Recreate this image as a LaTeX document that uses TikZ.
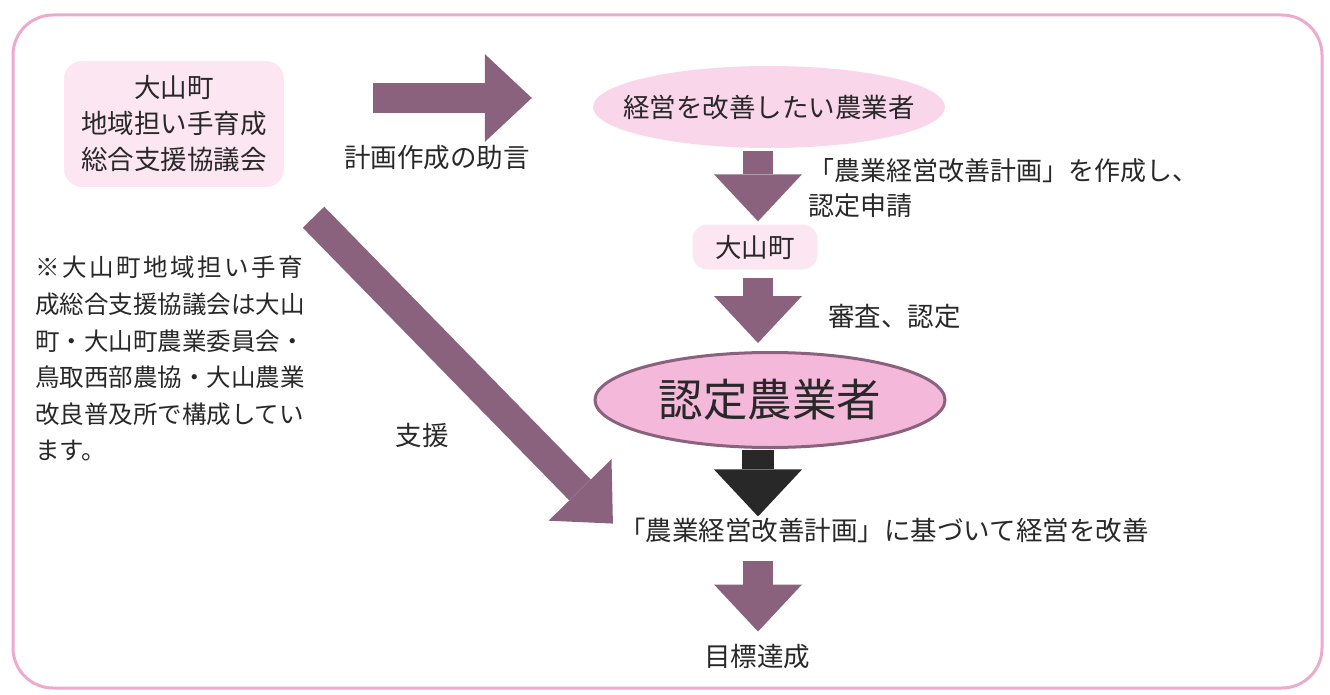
\documentclass[tikz,border=0pt]{standalone}
\usepackage{fontspec}
\newfontfamily\jpfont{Noto Sans CJK JP}
\usetikzlibrary{arrows.meta,shapes.geometric}
\definecolor{mauve}{RGB}{138,98,126}
\definecolor{framepink}{RGB}{238,170,205}
\definecolor{palepink}{RGB}{252,230,242}
\definecolor{midpink}{RGB}{250,214,235}
\definecolor{deeppink}{RGB}{244,184,218}
\definecolor{ink}{RGB}{40,40,40}
\tikzset{
  jp/.style={font=\jpfont\fontsize{26.5}{36}\selectfont, text=ink, inner sep=0pt},
  bigarrow/.style={draw=mauve, line width=30pt,
    -{Triangle[length=47pt,width=88pt,line width=0pt]}},
  blackarrow/.style={bigarrow, draw=ink, line width=32pt},
  pinkbox/.style={jp, fill=palepink, rounded corners=18pt, align=center},
}
\begin{document}
\begin{tikzpicture}[x=1pt,y=-1pt]
  \useasboundingbox (0,0) rectangle (1330,695);
  % outer frame
  \draw[framepink, line width=3pt, rounded corners=40pt] (13,15) rectangle (1322,688);

  % nodes
  \node[pinkbox, minimum width=220pt, minimum height=126pt] (kyogikai) at (174,124)
    {大山町\\地域担い手育成\\総合支援協議会};
  \node[jp, ellipse, fill=midpink, inner xsep=-24pt, minimum width=352pt, minimum height=82pt] (keiei) at (769,107)
    {経営を改善したい農業者};
  \node[pinkbox, rounded corners=15pt, minimum width=125pt, minimum height=45pt] (machi) at (755,247) {大山町};
  \node[jp, ellipse, draw=mauve, line width=3pt, fill=deeppink, font=\jpfont\fontsize{44.5}{50}\selectfont,
    minimum width=350pt, minimum height=95pt] (nintei) at (770,400) {認定農業者};
  \node[jp] (kaizen) at (884,530) {「農業経営改善計画」に基づいて経営を改善};
  \node[jp] (goal) at (757,657) {目標達成};

  % labels
  \node[jp] (advice) at (437,158) {計画作成の助言};
  \node[jp, anchor=west, align=left, font=\jpfont\fontsize{26}{35}\selectfont] (shinsei) at (808,188)
    {「農業経営改善計画」を作成し、\\認定申請};
  \node[jp, anchor=west] (shinsa) at (828,316) {審査、認定};
  \node[jp] (shien) at (422,435) {支援};
  \node[jp, anchor=north west, align=left, font=\jpfont\fontsize{24.5}{36.6}\selectfont]
    (note) at (35,256)
    {{\addfontfeatures{LetterSpace=10.4}※大山町地域担い手育}\\成総合支援協議会は大山\\町・大山町農業委員会・\\鳥取西部農協・大山農業\\改良普及所で構成してい\\ます。};

  % arrows
  \coordinate (col) at (758,0);
  \draw[bigarrow, shorten <=89pt, shorten >=61pt]
    ([yshift=9pt]kyogikai.east |- keiei.west) -- ([yshift=9pt]keiei.west);
  \draw[bigarrow, shorten <=42pt, shorten >=9pt] (kyogikai.south east) -- (kaizen.west);
  \draw[bigarrow, shorten <=3pt, shorten >=3pt] (keiei.south -| col) -- (machi.north -| col);
  \draw[bigarrow, shorten <=8pt, shorten >=8pt] (machi.south -| col) -- (nintei.north -| col);
  \draw[blackarrow, shorten <=1pt, shorten >=1pt] (nintei.south -| col) -- (kaizen.north -| col);
  \draw[bigarrow, shorten <=18pt, shorten >=13pt] (kaizen.south -| col) -- (goal.north -| col);
\end{tikzpicture}
\end{document}
